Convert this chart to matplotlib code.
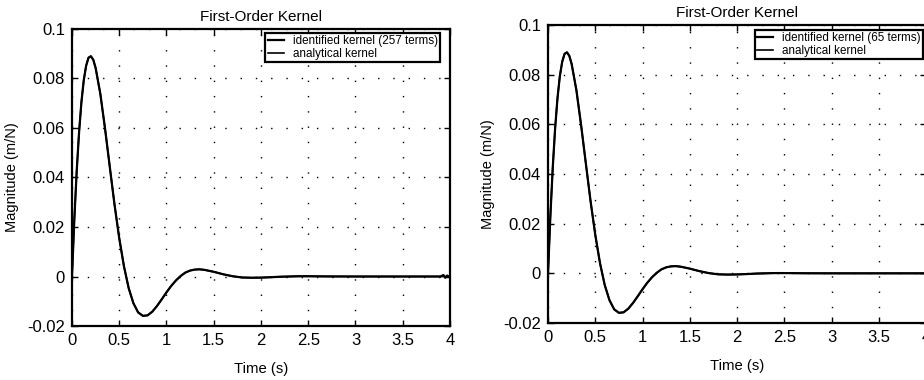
import matplotlib.pyplot as plt

plt.rcParams['font.family'] = ['Liberation Sans', 'DejaVu Sans']

# kernel samples (s, m/N)
t = [0, 0.025, 0.05, 0.075, 0.1, 0.125, 0.15, 0.175, 0.2, 0.225, 0.25, 0.3, 0.35,
     0.4, 0.45, 0.5, 0.55, 0.6, 0.65, 0.7, 0.75, 0.8, 0.85, 0.9, 0.95, 1.0, 1.05,
     1.1, 1.15, 1.2, 1.25, 1.3, 1.35, 1.4, 1.45, 1.5, 1.6, 1.7, 1.8, 1.9, 2.0, 2.1,
     2.2, 2.3, 2.4, 2.5, 2.7, 3.0, 3.5, 3.9, 4.0]
analytical = [0, 0.0232, 0.0426, 0.0583, 0.0705, 0.0794, 0.0852, 0.0884, 0.0890,
              0.0876, 0.0843, 0.0738, 0.0597, 0.0443, 0.0291, 0.0155, 0.0041,
              -0.0047, -0.0108, -0.0145, -0.0159, -0.0157, -0.0142, -0.0119,
              -0.0092, -0.0064, -0.0038, -0.0016, 0.0002, 0.0016, 0.0024, 0.0028,
              0.0029, 0.0027, 0.0023, 0.0019, 0.0009, 0.0001, -0.0004, -0.0005,
              -0.00045, -0.0003, -0.0001, 0.0, 0.0001, 0.0001, 0.00003, 0.0, 0.0,
              0.0, 0.0]

# identified kernels: same samples, the 257-term one ripples at the tail
t_257 = t[:-1] + [3.93, 3.95, 3.97, 3.99, 4.0]
id_257 = analytical[:-1] + [0.0006, -0.0005, 0.0004, -0.0002, 0.0]
t_65 = t
id_65 = analytical

yticks = [-0.02, 0, 0.02, 0.04, 0.06, 0.08, 0.1]
ytick_labels = ['-0.02', '0', '0.02', '0.04', '0.06', '0.08', '0.1']
xticks = [0, 0.5, 1, 1.5, 2, 2.5, 3, 3.5, 4]
xtick_labels = ['0', '0.5', '1', '1.5', '2', '2.5', '3', '3.5', '4']

fig = plt.figure(figsize=(9.24, 3.8), dpi=100)
ax1 = fig.add_axes([0.0779, 0.1421, 0.4091, 0.7816])
ax2 = fig.add_axes([0.5931, 0.15, 0.4091, 0.7842])

panels = [
    (ax1, t_257, id_257, 'identified kernel (257 terms)', (0.974, 0.987)),
    (ax2, t_65, id_65, 'identified kernel (65 terms)', (0.992, 0.983)),
]

for ax, ti, yi, name, anchor in panels:
    ax.plot(ti, yi, color='black', lw=1.6, label=name)
    ax.plot(t, analytical, color='black', lw=1.2, label='analytical kernel')
    ax.set_xlim(0, 4)
    ax.set_ylim(-0.02, 0.1)
    ax.set_xticks(xticks)
    ax.set_xticklabels(xtick_labels)
    ax.set_yticks(yticks)
    ax.set_yticklabels(ytick_labels)
    ax.tick_params(direction='in', top=True, right=True, labelsize=12,
                   length=4, width=1, pad=5)
    ax.grid(True, color='black', linestyle=(0, (1, 10)), lw=1)
    for s in ax.spines.values():
        s.set_linewidth(1.6)
    ax.set_title('First-Order Kernel', fontsize=11, pad=6)
    ax.set_ylabel('Magnitude (m/N)', fontsize=10.5, labelpad=6)
    ax.set_xlabel('Time (s)', fontsize=10.7, labelpad=10)
    leg = ax.legend(loc='upper right', bbox_to_anchor=anchor, borderaxespad=0,
                    fontsize=8.4, handlelength=1.4, handletextpad=0.75,
                    labelspacing=0.05, borderpad=0.2, fancybox=False,
                    framealpha=1)
    leg.get_frame().set_edgecolor('black')
    leg.get_frame().set_linewidth(1.6)

fig.savefig('out.png', dpi=100)
